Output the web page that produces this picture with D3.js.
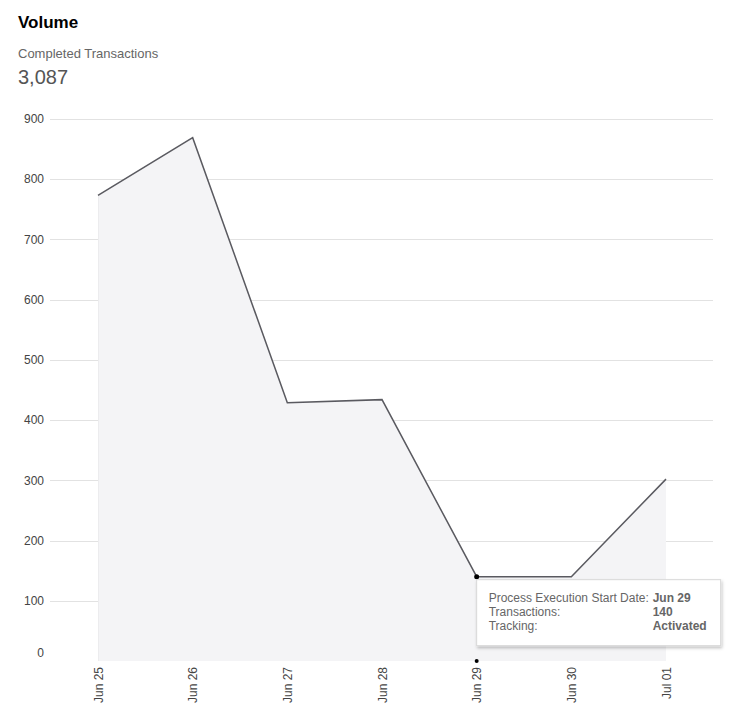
<!DOCTYPE html>
<html>
<head>
<meta charset="utf-8">
<script src="https://cdn.jsdelivr.net/npm/d3@7"></script>
<style>
  body { margin: 0; background: #fff; font-family: "Liberation Sans", Arial, sans-serif; }
</style>
</head>
<body>
<div id="chart"></div>
<script>
// Data
const dates = ["Jun 25", "Jun 26", "Jun 27", "Jun 28", "Jun 29", "Jun 30", "Jul 01"]
const transactions = [773, 869, 429, 434, 140, 140, 302]
const yTicks = [0, 100, 200, 300, 400, 500, 600, 700, 800, 900]
const totalLabel = "3,087"
const tooltipIndex = 4
const tooltipRows = [
    ["Process Execution Start Date:", "Jun 29"],
    ["Transactions:", "140"],
    ["Tracking:", "Activated"]
]

const WIDTH = 739
const HEIGHT = 721
const PLOT = {LEFT: 98, RIGHT: 666, TOP: 119, BOTTOM: 661, GRIDLEFT: 50, GRIDRIGHT: 713}

const data = dates.map((d, i) => ({date: d, value: transactions[i]}))

let svg = d3.select("#chart").append("svg")
    .attr("width", WIDTH)
    .attr("height", HEIGHT)
    .style("font-family", "'Liberation Sans', Arial, sans-serif")

// Header
svg.append("text").attr("x", 18).attr("y", 28)
    .attr("font-size", 17).attr("font-weight", "bold").attr("fill", "#000")
    .text("Volume")
svg.append("text").attr("x", 18).attr("y", 58)
    .attr("font-size", 13).attr("fill", "#666")
    .text("Completed Transactions")
svg.append("text").attr("x", 18).attr("y", 84)
    .attr("font-size", 20).attr("fill", "#555")
    .text(totalLabel)

// Scales
let xScale = d3.scalePoint()
    .domain(dates)
    .range([PLOT.LEFT, PLOT.RIGHT])

let yScale = d3.scaleLinear()
    .domain([0, 900])
    .range([PLOT.BOTTOM, PLOT.TOP])

// Gridlines (no line at zero)
svg.append("g")
    .selectAll("line")
    .data(yTicks.filter(t => t > 0))
    .join("line")
    .attr("x1", PLOT.GRIDLEFT)
    .attr("x2", PLOT.GRIDRIGHT)
    .attr("y1", d => Math.round(yScale(d)) + 0.5)
    .attr("y2", d => Math.round(yScale(d)) + 0.5)
    .attr("stroke", "#e2e2e2")

// Area + line
let area = d3.area()
    .x(d => xScale(d.date))
    .y0(yScale(0))
    .y1(d => yScale(d.value))

let line = d3.line()
    .x(d => xScale(d.date))
    .y(d => yScale(d.value))

svg.append("path").datum(data)
    .attr("d", area)
    .attr("fill", "#f4f4f6")

svg.append("line")
    .attr("x1", xScale(dates[0]) + 0.5).attr("x2", xScale(dates[0]) + 0.5)
    .attr("y1", yScale(data[0].value)).attr("y2", yScale(0))
    .attr("stroke", "#ececee")

svg.append("path").datum(data)
    .attr("d", line)
    .attr("fill", "none")
    .attr("stroke", "#5a5a60")
    .attr("stroke-width", 1.5)

// Y axis labels
svg.append("g")
    .selectAll("text")
    .data(yTicks)
    .join("text")
    .attr("x", 44)
    .attr("y", d => yScale(d) + (d === 0 ? -8 : 0))
    .attr("dy", "0.35em")
    .attr("text-anchor", "end")
    .attr("font-size", 12)
    .attr("fill", "#444")
    .text(d => d)

// X axis labels, rotated
let xAxis = svg.append("g")
    .attr("transform", "translate(0," + (PLOT.BOTTOM + 6) + ")")
    .call(d3.axisBottom(xScale).tickSize(0).tickPadding(0))
xAxis.select(".domain").remove()
xAxis.selectAll("text")
    .attr("font-size", 12)
    .attr("font-family", "'Liberation Sans', Arial, sans-serif")
    .attr("fill", "#444")
    .attr("text-anchor", "end")
    .attr("transform", "rotate(-90)")
    .attr("x", 0)
    .attr("y", 0)
    .attr("dx", 0)
    .attr("dy", "0.35em")

// Hover markers
const hover = data[tooltipIndex]
svg.append("circle")
    .attr("cx", xScale(hover.date)).attr("cy", yScale(hover.value))
    .attr("r", 2.5).attr("fill", "#000")
svg.append("circle")
    .attr("cx", xScale(hover.date)).attr("cy", yScale(0))
    .attr("r", 2).attr("fill", "#000")

// Tooltip
let defs = svg.append("defs")
let filter = defs.append("filter").attr("id", "shadow")
    .attr("x", "-10%").attr("y", "-10%").attr("width", "130%").attr("height", "140%")
filter.append("feDropShadow")
    .attr("dx", 1).attr("dy", 2).attr("stdDeviation", 1.5)
    .attr("flood-color", "#000").attr("flood-opacity", 0.25)

const tipX = xScale(hover.date)
const tipY = yScale(hover.value) + 3
let tip = svg.append("g").attr("transform", "translate(" + tipX + "," + tipY + ")")
tip.append("rect")
    .attr("x", 0).attr("y", 0)
    .attr("width", 244).attr("height", 66)
    .attr("fill", "#fff")
    .attr("stroke", "#d8d8d8")
    .attr("filter", "url(#shadow)")
tip.selectAll("text.k")
    .data(tooltipRows)
    .join("text")
    .attr("class", "k")
    .attr("x", 12)
    .attr("y", (d, i) => 22 + i * 14)
    .attr("font-size", 12)
    .attr("fill", "#666")
    .text(d => d[0])
tip.selectAll("text.v")
    .data(tooltipRows)
    .join("text")
    .attr("class", "v")
    .attr("x", 176)
    .attr("y", (d, i) => 22 + i * 14)
    .attr("font-size", 12)
    .attr("font-weight", "bold")
    .attr("fill", "#666")
    .text(d => d[1])
</script>
</body>
</html>
